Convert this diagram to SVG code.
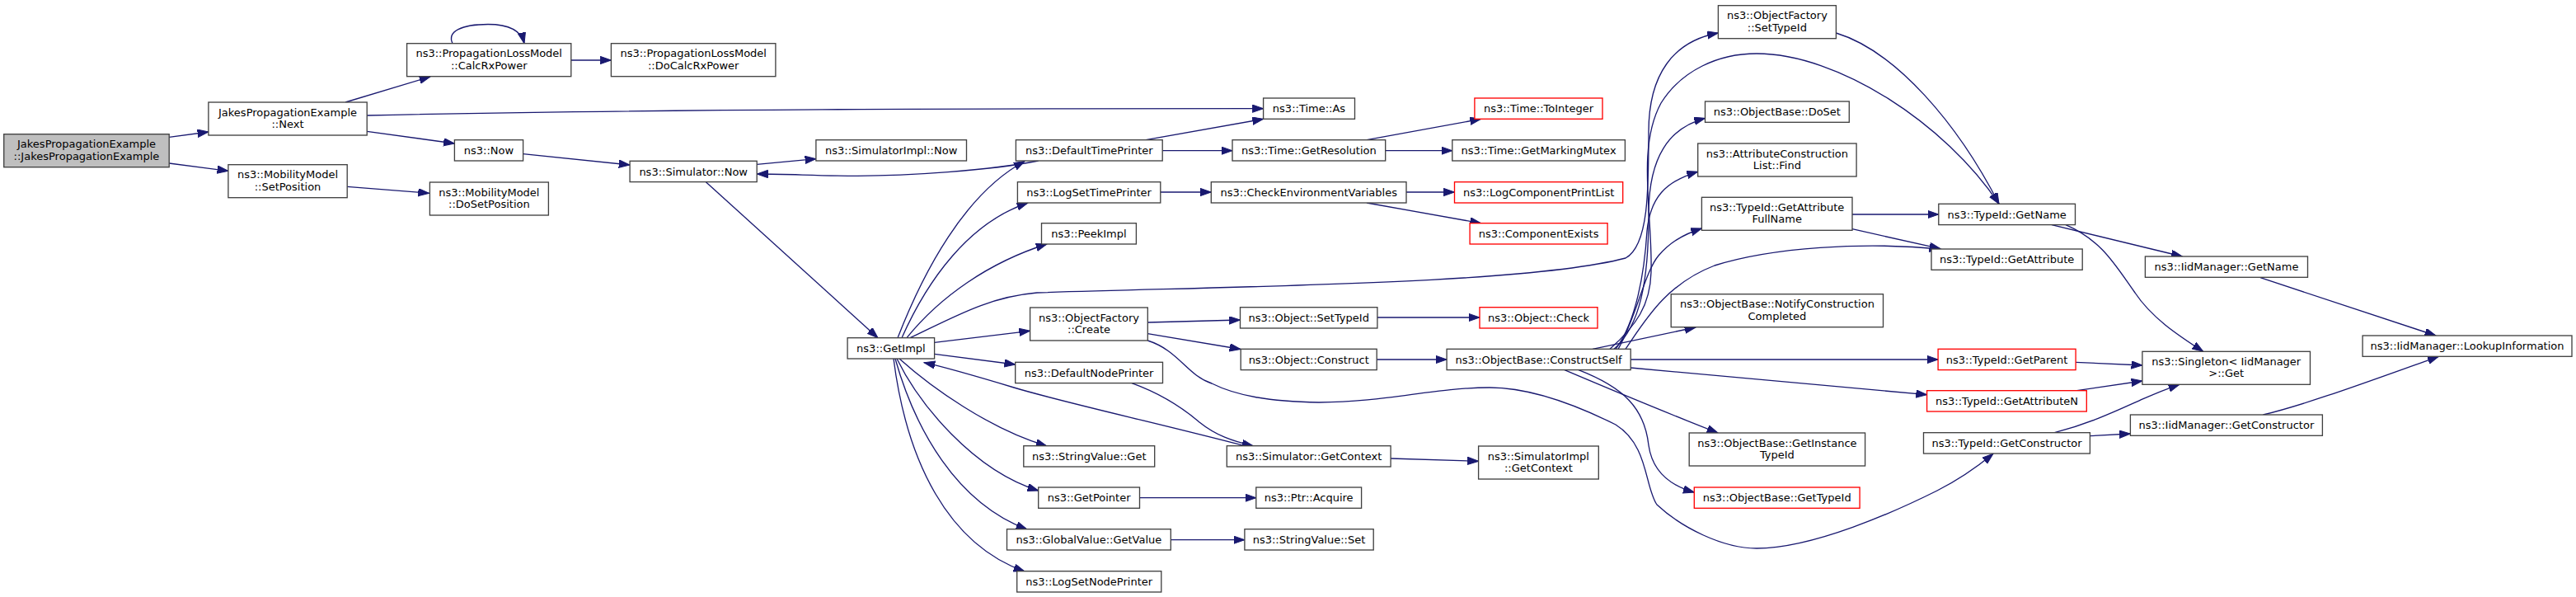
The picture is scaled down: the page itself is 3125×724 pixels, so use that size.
<svg xmlns="http://www.w3.org/2000/svg" width="3125" height="724" viewBox="0 0 3125 724">
<style>
rect{fill:#fff;stroke:#404040;stroke-width:1.33}
rect.red{stroke:#ff0000}
rect.root{fill:#bfbfbf}
text{font-family:"DejaVu Sans","Liberation Sans",sans-serif;font-size:13px;fill:#000;text-anchor:middle}
#edges path{fill:none;stroke:#191970;stroke-width:1.33;marker-end:url(#ah)}
</style>
<defs>
<marker id="ah" markerUnits="userSpaceOnUse" markerWidth="15" markerHeight="11" refX="13.3" refY="4.67" orient="auto">
<path d="M0,0 L13.3,4.67 L0,9.33 z" fill="#191970" stroke="#191970" stroke-width="1"/>
</marker>
</defs>
<rect x="0" y="0" width="3125" height="724" style="fill:#fff;stroke:none"/>
<g id="edges">
<path d="M205.2,166.3 L252.9,160"/>
<path d="M205.2,198 L276.9,207.3"/>
<path d="M419,124 L522,93"/>
<path d="M445.2,140 C800,132 1200,131.7 1532.6,131.7"/>
<path d="M445.2,159.3 L551.4,174"/>
<path d="M549,52.7 C542,38 560,29.5 592,29.5 C615,29.5 632,36 636,52.7"/>
<path d="M692.8,73 L741.4,73"/>
<path d="M421.2,226.3 L520.6,234.3"/>
<path d="M634.6,186.7 L764.1,200"/>
<path d="M918.2,199.3 L989.9,192.7"/>
<path d="M856.4,220.7 L1065,409.7"/>
<path d="M1259.7,195 C1200,207 1100,213.3 1040,213.3 C990,213.3 960,211 918.2,211"/>
<path d="M1390,169.7 L1532.6,144.3"/>
<path d="M1410.2,182.7 L1495,182.7"/>
<path d="M1658,169.7 L1796.7,144.3"/>
<path d="M1680.7,182.7 L1761.8,182.7"/>
<path d="M1407.8,233 L1469.3,233"/>
<path d="M1706,233 L1764.5,233"/>
<path d="M1658,246 L1796.6,270.7"/>
<path d="M1089,409.7 C1120,330 1170,235 1243,195.5"/>
<path d="M1094,409.7 C1125,340 1175,270 1247,246"/>
<path d="M1100,409.7 C1140,360 1200,318 1270,296"/>
<path d="M1104,409.7 C1160,383 1200,360 1258,355 C1500,347 1850,345 1972,313 C2000,298 2000,230 2000,160 C2000,90 2030,50 2084.4,40"/>
<path d="M1932,423.3 L2057,397"/>
<path d="M1958,423.3 C1990,395 2000,340 2000,260 C2000,190 2025,155 2068.5,143.3"/>
<path d="M1960,423.3 C1985,390 1995,330 1998,280 C2002,240 2020,220 2059.7,208.3"/>
<path d="M1963,423.3 C1985,385 1995,330 2012,310 C2025,295 2040,285 2064.4,277"/>
<path d="M1953,423.3 C1985,395 2002,370 2003,330 C2005,260 1985,180 2015,125 C2040,85 2085,65 2131,65 C2230,65 2360,150 2425,247.3"/>
<path d="M1972,423.3 C1995,390 2020,345 2080,322 C2150,300 2260,293 2354,302"/>
<path d="M1978.2,436 L2351.1,436"/>
<path d="M1978.2,446 L2337.6,478.7"/>
<path d="M1898,448.7 C1960,475 2020,500 2084,525"/>
<path d="M1915,448.7 C1970,470 1995,495 2000,540 C2005,575 2030,590 2055.3,597"/>
<path d="M1392.3,391 L1504.5,388"/>
<path d="M1392.3,404.7 L1505,423.5"/>
<path d="M1392.3,413 C1430,425 1440,455 1470,465 C1500,480 1540,487 1600,488 C1680,488 1740,470 1807,470 C1850,470 1900,485 1960,515 C2000,540 1995,590 2010,612 C2040,640 2090,665 2131,665 C2200,665 2300,620 2350,595 C2380,580 2400,565 2418,550.3"/>
<path d="M1670.9,385 L1795,385"/>
<path d="M1670.2,436 L1755.1,436"/>
<path d="M1133.6,415.3 L1249.6,401.3"/>
<path d="M1133.6,429.3 L1231.7,442"/>
<path d="M1510,540.7 C1400,512 1290,488 1230,470 C1180,455 1150,446 1121,439.7"/>
<path d="M1091,435 C1130,470 1200,520 1270,541"/>
<path d="M1088,435 C1115,490 1180,570 1259.7,595"/>
<path d="M1086,435 C1110,520 1160,610 1246,642"/>
<path d="M1084,435 C1100,560 1150,660 1243,693"/>
<path d="M1373,464.7 C1410,478 1435,495 1455,512 C1475,528 1495,535 1520,540.7"/>
<path d="M1382.5,603.7 L1523.8,603.7"/>
<path d="M1420.3,654.7 L1509.9,654.7"/>
<path d="M1687.1,556 L1793.6,559.3"/>
<path d="M2227.4,40 C2300,62 2375,150 2425,247.3"/>
<path d="M2247,260 L2351.8,260"/>
<path d="M2247,277.7 L2354,301.7"/>
<path d="M2489,272.7 L2647.3,311"/>
<path d="M2506,272.7 C2550,292 2565,320 2590,355 C2610,385 2640,405 2672.7,426.3"/>
<path d="M2518.1,439.3 L2598.9,443"/>
<path d="M2519.5,473.7 L2598.9,462"/>
<path d="M2492.4,524.7 C2540,512 2570,497 2600,483.7 C2615,477 2630,471 2644,466.3"/>
<path d="M2535.4,528.7 L2584.4,526"/>
<path d="M2742,336.7 L2955,407"/>
<path d="M2745.4,503 C2800,490 2880,460 2958.4,432.3"/>
</g>
<g id="n_root"><rect class="root" x="4.7" y="162.7" width="200.5" height="40"/><text x="105" y="179.2">JakesPropagationExample</text><text x="105" y="193.7">::JakesPropagationExample</text></g>
<g id="n_next"><rect x="252.9" y="124" width="192.3" height="40"/><text x="349" y="140.5">JakesPropagationExample</text><text x="349" y="155">::Next</text></g>
<g id="n_setpos"><rect x="276.9" y="199.7" width="144.3" height="40"/><text x="349" y="216.2">ns3::MobilityModel</text><text x="349" y="230.7">::SetPosition</text></g>
<g id="n_calcrx"><rect x="493.6" y="52.7" width="199.2" height="40"/><text x="593.2" y="69.2">ns3::PropagationLossModel</text><text x="593.2" y="83.7">::CalcRxPower</text></g>
<g id="n_docalcrx"><rect x="741.4" y="52.7" width="199.5" height="40"/><text x="841.2" y="69.2">ns3::PropagationLossModel</text><text x="841.2" y="83.7">::DoCalcRxPower</text></g>
<g id="n_now"><rect x="551.4" y="169.7" width="83.2" height="25.3"/><text x="593" y="187">ns3::Now</text></g>
<g id="n_simnow"><rect x="764.1" y="195.3" width="154.1" height="25.3"/><text x="841.2" y="212.6">ns3::Simulator::Now</text></g>
<g id="n_simimplnow"><rect x="989.9" y="169.7" width="182.6" height="25.3"/><text x="1081.2" y="187">ns3::SimulatorImpl::Now</text></g>
<g id="n_dosetpos"><rect x="521.4" y="221" width="144" height="40"/><text x="593.4" y="237.5">ns3::MobilityModel</text><text x="593.4" y="252">::DoSetPosition</text></g>
<g id="n_getimpl"><rect x="1028.1" y="409.7" width="105.5" height="25.3"/><text x="1080.9" y="427">ns3::GetImpl</text></g>
<g id="n_timeas"><rect x="1532.6" y="119" width="110.9" height="25.3"/><text x="1588" y="136.3">ns3::Time::As</text></g>
<g id="n_deftime"><rect x="1232.4" y="169.7" width="177.8" height="25.3"/><text x="1321.3" y="187">ns3::DefaultTimePrinter</text></g>
<g id="n_logsettime"><rect x="1234.4" y="220.7" width="173.4" height="25.3"/><text x="1321.1" y="238">ns3::LogSetTimePrinter</text></g>
<g id="n_peek"><rect x="1263.5" y="270.7" width="114.9" height="25.3"/><text x="1321" y="288">ns3::PeekImpl</text></g>
<g id="n_getres"><rect x="1495" y="169.7" width="185.7" height="25.3"/><text x="1587.9" y="187">ns3::Time::GetResolution</text></g>
<g id="n_checkenv"><rect x="1469.3" y="220.7" width="236.7" height="25.3"/><text x="1587.7" y="238">ns3::CheckEnvironmentVariables</text></g>
<g id="n_toint"><rect class="red" x="1788.9" y="119" width="155.1" height="25.3"/><text x="1866.5" y="136.3">ns3::Time::ToInteger</text></g>
<g id="n_mutex"><rect x="1761.8" y="169.7" width="209.6" height="25.3"/><text x="1866.6" y="187">ns3::Time::GetMarkingMutex</text></g>
<g id="n_logcomp"><rect class="red" x="1764.5" y="220.7" width="204.2" height="25.3"/><text x="1866.6" y="238">ns3::LogComponentPrintList</text></g>
<g id="n_compexists"><rect class="red" x="1783.1" y="270.7" width="167" height="25.3"/><text x="1866.6" y="288">ns3::ComponentExists</text></g>
<g id="n_create"><rect x="1249.6" y="373" width="142.7" height="40"/><text x="1321" y="389.5">ns3::ObjectFactory</text><text x="1321" y="404">::Create</text></g>
<g id="n_defnode"><rect x="1231.7" y="439.3" width="178.8" height="25.3"/><text x="1321.1" y="456.6">ns3::DefaultNodePrinter</text></g>
<g id="n_svget"><rect x="1241.8" y="540.7" width="158.9" height="25.3"/><text x="1321.3" y="558">ns3::StringValue::Get</text></g>
<g id="n_simgetctx"><rect x="1488.3" y="540.7" width="198.8" height="25.3"/><text x="1587.7" y="558">ns3::Simulator::GetContext</text></g>
<g id="n_getptr"><rect x="1259.7" y="591" width="122.8" height="25.3"/><text x="1321.1" y="608.3">ns3::GetPointer</text></g>
<g id="n_acquire"><rect x="1523.8" y="591" width="127.8" height="25.3"/><text x="1587.7" y="608.3">ns3::Ptr::Acquire</text></g>
<g id="n_gvget"><rect x="1221.5" y="641.7" width="198.8" height="25.3"/><text x="1320.9" y="659">ns3::GlobalValue::GetValue</text></g>
<g id="n_svset"><rect x="1509.9" y="641.7" width="156.3" height="25.3"/><text x="1588" y="659">ns3::StringValue::Set</text></g>
<g id="n_logsetnode"><rect x="1233.7" y="692.7" width="175.1" height="25.3"/><text x="1321.2" y="710">ns3::LogSetNodePrinter</text></g>
<g id="n_objsettid"><rect x="1504.5" y="372.7" width="166.4" height="25.3"/><text x="1587.7" y="390">ns3::Object::SetTypeId</text></g>
<g id="n_objconstruct"><rect x="1505.2" y="423.3" width="165" height="25.3"/><text x="1587.7" y="440.6">ns3::Object::Construct</text></g>
<g id="n_objcheck"><rect class="red" x="1795" y="372.7" width="143" height="25.3"/><text x="1866.5" y="390">ns3::Object::Check</text></g>
<g id="n_constructself"><rect x="1755.1" y="423.3" width="223.1" height="25.3"/><text x="1866.6" y="440.6">ns3::ObjectBase::ConstructSelf</text></g>
<g id="n_simimplctx"><rect x="1793.6" y="541" width="145.7" height="40"/><text x="1866.4" y="557.5">ns3::SimulatorImpl</text><text x="1866.4" y="572">::GetContext</text></g>
<g id="n_ofsettid"><rect x="2084.4" y="6.7" width="143" height="40"/><text x="2155.9" y="23.2">ns3::ObjectFactory</text><text x="2155.9" y="37.7">::SetTypeId</text></g>
<g id="n_doset"><rect x="2068.5" y="123" width="174.8" height="25.3"/><text x="2155.9" y="140.3">ns3::ObjectBase::DoSet</text></g>
<g id="n_acfind"><rect x="2059.7" y="174" width="192.4" height="40"/><text x="2155.9" y="190.5">ns3::AttributeConstruction</text><text x="2155.9" y="205">List::Find</text></g>
<g id="n_fullname"><rect x="2064.4" y="239.3" width="182.6" height="40"/><text x="2155.7" y="255.8">ns3::TypeId::GetAttribute</text><text x="2155.7" y="270.3">FullName</text></g>
<g id="n_notify"><rect x="2027.2" y="356.7" width="257.3" height="40"/><text x="2155.9" y="373.2">ns3::ObjectBase::NotifyConstruction</text><text x="2155.9" y="387.7">Completed</text></g>
<g id="n_getname"><rect x="2351.8" y="247.3" width="165.7" height="25.3"/><text x="2434.7" y="264.6">ns3::TypeId::GetName</text></g>
<g id="n_getattr"><rect x="2343" y="302" width="183.2" height="25.3"/><text x="2434.6" y="319.3">ns3::TypeId::GetAttribute</text></g>
<g id="n_getparent"><rect class="red" x="2351.1" y="423.3" width="167" height="25.3"/><text x="2434.6" y="440.6">ns3::TypeId::GetParent</text></g>
<g id="n_getattrn"><rect class="red" x="2337.6" y="473.7" width="193.7" height="25.3"/><text x="2434.5" y="491">ns3::TypeId::GetAttributeN</text></g>
<g id="n_getinst"><rect x="2049.2" y="525" width="213.4" height="40"/><text x="2155.9" y="541.5">ns3::ObjectBase::GetInstance</text><text x="2155.9" y="556">TypeId</text></g>
<g id="n_obgettid"><rect class="red" x="2055.3" y="591" width="200.8" height="25.3"/><text x="2155.7" y="608.3">ns3::ObjectBase::GetTypeId</text></g>
<g id="n_getctor"><rect x="2333.5" y="524.7" width="201.9" height="25.3"/><text x="2434.5" y="542">ns3::TypeId::GetConstructor</text></g>
<g id="n_singleton"><rect x="2598.9" y="426.3" width="203.6" height="40"/><text x="2700.7" y="442.8">ns3::Singleton&lt; IidManager</text><text x="2700.7" y="457.3">&gt;::Get</text></g>
<g id="n_iidctor"><rect x="2584.4" y="503" width="233" height="25.3"/><text x="2700.9" y="520.3">ns3::IidManager::GetConstructor</text></g>
<g id="n_iidname"><rect x="2602.4" y="311" width="197.1" height="25.3"/><text x="2701" y="328.3">ns3::IidManager::GetName</text></g>
<g id="n_lookup"><rect x="2866.1" y="407" width="253.9" height="25.3"/><text x="2993" y="424.3">ns3::IidManager::LookupInformation</text></g>
</svg>
